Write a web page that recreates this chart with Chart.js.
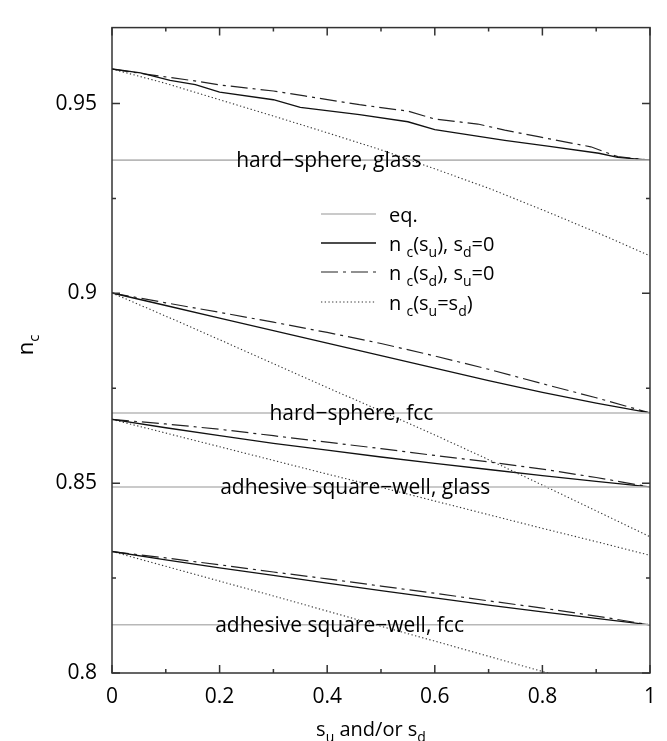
<!DOCTYPE html>
<html>
<head>
<meta charset="utf-8">
<script src="https://cdn.jsdelivr.net/npm/chart.js@4.4.0/dist/chart.umd.min.js"></script>
<style>
html,body{margin:0;padding:0;background:#fff}
#wrap{width:667px;height:741px;position:relative}
</style>
</head>
<body>
<div id="wrap"><canvas id="myChart"></canvas></div>
<script>
// s values (x) shared by most curves
var sGrid = [0,0.1,0.2,0.3,0.4,0.5,0.6,0.7,0.8,0.9,1];

// hard-sphere, glass
var sHsGlassU = [0,0.053,0.108,0.155,0.2,0.3,0.35,0.46,0.55,0.6,0.73,0.81,0.905,0.94,1];
var hsGlassU  = [0.9591,0.9581,0.9561,0.9550,0.9530,0.9510,0.9490,0.9471,0.9452,0.9431,0.9403,0.9388,0.9369,0.9358,0.9351];
var sHsGlassD = [0,0.069,0.147,0.2,0.3,0.358,0.46,0.55,0.6,0.68,0.73,0.795,0.89,0.94,1];
var hsGlassD  = [0.9591,0.9576,0.9561,0.9549,0.9533,0.9520,0.9497,0.9480,0.9459,0.9446,0.9430,0.9412,0.9386,0.9360,0.9351];
var hsGlassUD = [0.9591,0.9553,0.9510,0.9467,0.9423,0.9378,0.9328,0.9277,0.9220,0.9161,0.9099];

// hard-sphere, fcc
var hsFccU  = [0.9001,0.8968,0.8935,0.8902,0.8869,0.8836,0.8803,0.8770,0.8739,0.8711,0.8685];
var hsFccD  = [0.9001,0.8975,0.8950,0.8924,0.8897,0.8868,0.8835,0.8800,0.8762,0.8725,0.8685];
var hsFccUD = [0.9001,0.8940,0.8878,0.8815,0.8752,0.8690,0.8627,0.8562,0.8495,0.8427,0.8359];

// adhesive square-well, glass
var swGlassU  = [0.8668,0.8646,0.8625,0.8605,0.8587,0.8569,0.8552,0.8536,0.8520,0.8505,0.8490];
var swGlassD  = [0.8668,0.8656,0.8642,0.8625,0.8608,0.8591,0.8573,0.8556,0.8537,0.8515,0.8490];
var swGlassUD = [0.8668,0.8632,0.8596,0.8560,0.8524,0.8489,0.8453,0.8417,0.8381,0.8346,0.8310];

// adhesive square-well, fcc
var swFccU  = [0.8320,0.8298,0.8277,0.8257,0.8237,0.8217,0.8198,0.8179,0.8161,0.8144,0.8127];
var swFccD  = [0.8320,0.8303,0.8285,0.8266,0.8248,0.8229,0.8210,0.8190,0.8171,0.8150,0.8127];
var swFccUD = [0.8320,0.8281,0.8242,0.8203,0.8163,0.8123,0.8084,0.8044,0.8004,0.7964,0.7924];

// equilibrium values and their labels
var eqLevels = [0.9351,0.8685,0.8490,0.8127];
var eqNames  = ["hard\u2212sphere, glass","hard\u2212sphere, fcc","adhesive square\u2212well, glass","adhesive square\u2212well, fcc"];
var eqNameS  = [0.403,0.445,0.452,0.423];

var xTickVals = [0,0.2,0.4,0.6,0.8,1];
var xTickLabels = ["0","0.2","0.4","0.6","0.8","1"];
var yTickVals = [0.8,0.85,0.9,0.95];
var yTickLabels = ["0.8","0.85","0.9","0.95"];

var FONT = "'Open Sans', 'Noto Sans', sans-serif";
var EQ_COL = "#b8b8b8", INK = "#111";

function pts(xs, ys) {
  var out = [];
  for (var i = 0; i < xs.length; i++) out.push({x: xs[i], y: ys[i]});
  return out;
}
function findLabel(v, vals, labels) {
  for (var i = 0; i < vals.length; i++) if (Math.abs(v - vals[i]) < 1e-6) return labels[i];
  return "";
}

var styleU  = {borderColor: INK, borderWidth: 1.3, borderDash: []};
var styleD  = {borderColor: "#222", borderWidth: 1.2, borderDash: [17,5,3,5]};
var styleUD = {borderColor: "#333", borderWidth: 1.1, borderDash: [1.3,2.4]};
var styleEq = {borderColor: EQ_COL, borderWidth: 1.6, borderDash: []};

function ds(data, st) {
  return {data: data, borderColor: st.borderColor, borderWidth: st.borderWidth,
          borderDash: st.borderDash, fill: false, pointRadius: 0, tension: 0};
}

var datasets = [];
for (var k = 0; k < eqLevels.length; k++) {
  datasets.push(ds(pts([0,1],[eqLevels[k],eqLevels[k]]), styleEq));
}
datasets.push(ds(pts(sHsGlassU, hsGlassU), styleU));
datasets.push(ds(pts(sHsGlassD, hsGlassD), styleD));
datasets.push(ds(pts(sGrid, hsGlassUD), styleUD));
datasets.push(ds(pts(sGrid, hsFccU), styleU));
datasets.push(ds(pts(sGrid, hsFccD), styleD));
datasets.push(ds(pts(sGrid, hsFccUD), styleUD));
datasets.push(ds(pts(sGrid, swGlassU), styleU));
datasets.push(ds(pts(sGrid, swGlassD), styleD));
datasets.push(ds(pts(sGrid, swGlassUD), styleUD));
datasets.push(ds(pts(sGrid, swFccU), styleU));
datasets.push(ds(pts(sGrid, swFccD), styleD));
datasets.push(ds(pts(sGrid, swFccUD), styleUD));

// text with subscripts: parts = [[text, isSub], ...]
function drawParts(ctx, parts, x, y, size, align) {
  var subSize = Math.round(size * 0.68);
  var w = 0, i;
  for (i = 0; i < parts.length; i++) {
    ctx.font = (parts[i][1] ? subSize : size) + "px " + FONT;
    w += ctx.measureText(parts[i][0]).width;
  }
  var cx = align === "center" ? x - w / 2 : x;
  ctx.textAlign = "left";
  ctx.textBaseline = "alphabetic";
  for (i = 0; i < parts.length; i++) {
    ctx.font = (parts[i][1] ? subSize : size) + "px " + FONT;
    ctx.fillText(parts[i][0], cx, y + (parts[i][1] ? size * 0.28 : 0));
    cx += ctx.measureText(parts[i][0]).width;
  }
}

var decor = {
  id: "decor",
  afterDatasetsDraw: function(chart) {
    var ctx = chart.ctx, a = chart.chartArea;
    var xs = chart.scales.x, ys = chart.scales.y;
    ctx.save();
    // frame
    ctx.strokeStyle = "#333";
    ctx.lineWidth = 1.5;
    ctx.strokeRect(a.left, a.top, a.right - a.left, a.bottom - a.top);
    // inward ticks
    ctx.beginPath();
    xs.ticks.forEach(function(t) {
      var p = xs.getPixelForValue(t.value);
      var len = findLabel(t.value, xTickVals, xTickLabels) !== "" ? 8 : 4;
      ctx.moveTo(p, a.bottom); ctx.lineTo(p, a.bottom - len);
      ctx.moveTo(p, a.top); ctx.lineTo(p, a.top + len);
    });
    ys.ticks.forEach(function(t) {
      if (Math.abs(t.value * 40 - Math.round(t.value * 40)) > 1e-6) return;
      var p = ys.getPixelForValue(t.value);
      var len = findLabel(t.value, yTickVals, yTickLabels) !== "" ? 8 : 4;
      ctx.moveTo(a.left, p); ctx.lineTo(a.left + len, p);
      ctx.moveTo(a.right, p); ctx.lineTo(a.right - len, p);
    });
    ctx.stroke();

    // curve family labels
    ctx.fillStyle = "#000";
    ctx.font = "21px " + FONT;
    ctx.textAlign = "center";
    ctx.textBaseline = "middle";
    for (var k = 0; k < eqLevels.length; k++) {
      ctx.fillText(eqNames[k], xs.getPixelForValue(eqNameS[k]), ys.getPixelForValue(eqLevels[k]) + 1);
    }

    // legend
    var legend = [
      [styleEq, [["eq.", false]]],
      [styleU,  [["n ", false], ["c", true], ["(s", false], ["u", true], ["), s", false], ["d", true], ["=0", false]]],
      [styleD,  [["n ", false], ["c", true], ["(s", false], ["d", true], ["), s", false], ["u", true], ["=0", false]]],
      [styleUD, [["n ", false], ["c", true], ["(s", false], ["u", true], ["=s", false], ["d", true], [")", false]]]
    ];
    var lx0 = 321, lx1 = 376, tx = 389, rowY = [214, 243, 272, 302];
    for (var r = 0; r < legend.length; r++) {
      var st = legend[r][0];
      ctx.strokeStyle = st.borderColor;
      ctx.lineWidth = st.borderWidth;
      ctx.setLineDash(st.borderDash);
      ctx.beginPath();
      ctx.moveTo(lx0, rowY[r]); ctx.lineTo(lx1, rowY[r]);
      ctx.stroke();
      ctx.setLineDash([]);
      ctx.fillStyle = "#000";
      drawParts(ctx, legend[r][1], tx, rowY[r] + 8, 20, "left");
    }

    // axis titles
    drawParts(ctx, [["s", false], ["u", true], [" and/or s", false], ["d", true]],
              (a.left + a.right) / 2 - 10, 736, 20, "center");
    ctx.translate(33, 345);
    ctx.rotate(-Math.PI / 2);
    drawParts(ctx, [["n", false], ["c", true]], 0, 0, 22, "center");
    ctx.restore();
  }
};

Chart.defaults.font.family = FONT;
Chart.defaults.color = "#000";

new Chart("myChart", {
  type: "line",
  data: {datasets: datasets},
  options: {
    responsive: true,
    maintainAspectRatio: false,
    animation: false,
    layout: {padding: {top: 12, right: 10, left: 0, bottom: 0}},
    plugins: {legend: {display: false}, tooltip: {enabled: false}},
    scales: {
      x: {
        type: "linear", min: 0, max: 1,
        afterFit: function(s) { s.height = 68; },
        grid: {drawOnChartArea: false, drawTicks: false},
        border: {display: false},
        ticks: {stepSize: 0.1, padding: 11, autoSkip: false, maxRotation: 0,
                font: {size: 21},
                callback: function(v) { return findLabel(v, xTickVals, xTickLabels); }}
      },
      y: {
        type: "linear", min: 0.8, max: 0.97,
        afterFit: function(s) { s.width = 112; },
        grid: {drawOnChartArea: false, drawTicks: false},
        border: {display: false},
        ticks: {stepSize: 0.025, padding: 15, autoSkip: false,
                font: {size: 21},
                callback: function(v) { return findLabel(v, yTickVals, yTickLabels); }}
      }
    }
  },
  plugins: [decor]
});
</script>
</body>
</html>
